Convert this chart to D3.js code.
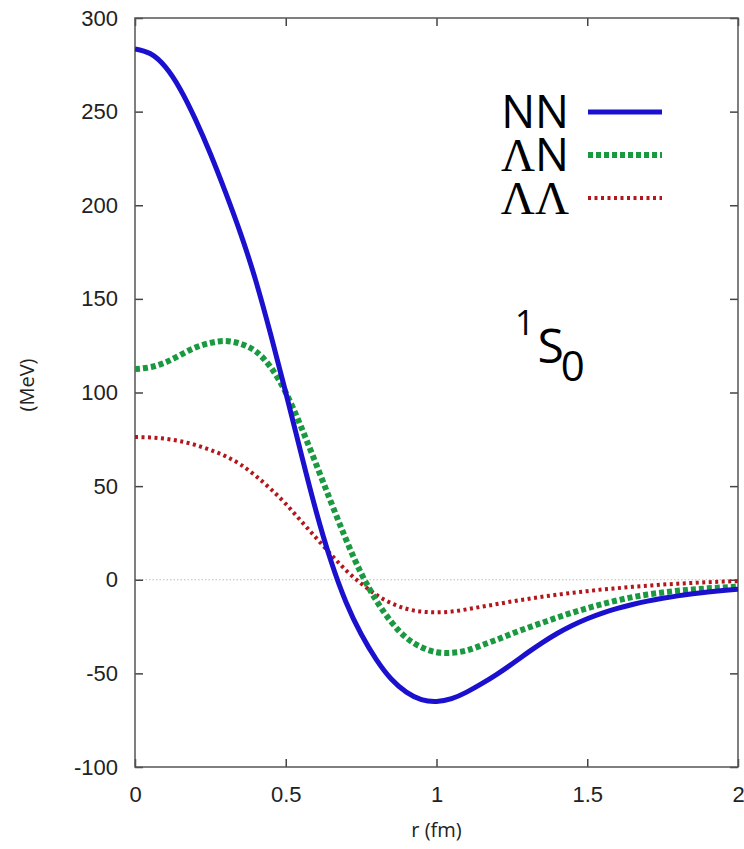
<!DOCTYPE html>
<html>
<head>
<meta charset="utf-8">
<script src="https://cdn.jsdelivr.net/npm/d3@7"></script>
<style>
  body { margin: 0; background: #fff; }
  svg { display: block; font-family: "Open Sans", "Noto Sans", sans-serif; }
</style>
</head>
<body>
<svg width="744" height="849"></svg>
<script>
// r grid (fm)
const rValues = [0, 0.05, 0.1, 0.15, 0.2, 0.25, 0.3, 0.35, 0.4, 0.45, 0.5, 0.55, 0.6, 0.65, 0.7, 0.75,
  0.8, 0.85, 0.9, 0.95, 1.0, 1.05, 1.1, 1.15, 1.2, 1.25, 1.3, 1.35, 1.4, 1.45, 1.5, 1.55, 1.6, 1.65,
  1.7, 1.75, 1.8, 1.85, 1.9, 1.95, 2.0];

// potentials (MeV)
const nnValues = [283.5, 281, 274, 262, 246, 227.5, 207, 185, 160, 131, 100, 68, 37, 10, -12, -29,
  -42.5, -53, -60, -64, -65, -63.5, -60, -55.5, -50.5, -45, -39.2, -33.7, -28.7, -24.4, -20.8, -17.8,
  -15.3, -13.2, -11.4, -9.9, -8.6, -7.5, -6.6, -5.8, -5.1];

const lnValues = [112.5, 113.5, 116, 120, 124, 126.5, 127.5, 126, 122, 113.5, 100, 82, 62, 41.5, 21.5, 3.5,
  -11, -22.5, -31, -36, -38.7, -39, -37.8, -35, -32, -28.8, -25.8, -23, -20.2, -17.6, -15.2, -13,
  -11, -9.3, -7.9, -6.8, -5.9, -5.2, -4.6, -4.1, -3.7];

const llValues = [76.2, 76, 75.3, 74, 72, 69.3, 66, 61.5, 55.5, 48.5, 40.5, 31.5, 22.5, 13.5, 5, -2,
  -8, -12.5, -15.5, -17, -17.4, -17, -15.8, -14.4, -13, -11.6, -10.3, -9.1, -8, -7, -6.1, -5.2,
  -4.5, -3.8, -3.2, -2.6, -2.1, -1.7, -1.3, -1, -0.7];

const xTicks = [0, 0.5, 1, 1.5, 2];
const yTicks = [-100, -50, 0, 50, 100, 150, 200, 250, 300];

const series = [
  { key: "NN", values: nnValues, color: "#1c10cf", width: 5, dash: null },
  { key: "ΛN", values: lnValues, color: "#1a9940", width: 6, dash: "5,3" },
  { key: "ΛΛ", values: llValues, color: "#b3161c", width: 4, dash: "3,3.5" }
];

const margin = { top: 18, right: 6, bottom: 82, left: 135 };
const width = 744, height = 849;
const innerW = width - margin.left - margin.right;
const innerH = height - margin.top - margin.bottom;

const svg = d3.select("svg");
const g = svg.append("g").attr("transform", `translate(${margin.left},${margin.top})`);

const x = d3.scaleLinear().domain([0, 2]).range([0, innerW]);
const y = d3.scaleLinear().domain([-100, 300]).range([innerH, 0]);

// zero line
g.append("line")
  .attr("x1", 0).attr("x2", innerW)
  .attr("y1", y(0)).attr("y2", y(0))
  .attr("stroke", "#bbb").attr("stroke-width", 1)
  .attr("stroke-dasharray", "1.5,2");

const fmt = d => d;

const styleAxis = sel => {
  sel.select(".domain").remove();
  sel.selectAll(".tick line").attr("stroke", "#444").attr("stroke-width", 1.5);
  sel.selectAll(".tick text").attr("fill", "#222").attr("font-size", 22);
};

g.append("g")
  .call(d3.axisLeft(y).tickValues(yTicks).tickSize(-8).tickPadding(17).tickFormat(fmt))
  .call(styleAxis);

g.append("g")
  .attr("transform", `translate(${innerW},0)`)
  .call(d3.axisRight(y).tickValues(yTicks).tickSize(-8).tickFormat(""))
  .call(styleAxis);

g.append("g")
  .attr("transform", `translate(0,${innerH})`)
  .call(d3.axisBottom(x).tickValues(xTicks).tickSize(-8).tickPadding(19).tickFormat(fmt))
  .call(styleAxis);

g.append("g")
  .call(d3.axisTop(x).tickValues(xTicks).tickSize(-8).tickFormat(""))
  .call(styleAxis);

// frame
g.append("rect")
  .attr("width", innerW).attr("height", innerH)
  .attr("fill", "none").attr("stroke", "#555").attr("stroke-width", 1.5);

// curves
const line = d3.line()
  .x((d, i) => x(rValues[i]))
  .y(d => y(d))
  .curve(d3.curveNatural);

svg.append("clipPath").attr("id", "plot-clip")
  .append("rect").attr("width", innerW).attr("height", innerH);

g.append("g").attr("clip-path", "url(#plot-clip)")
  .selectAll("path")
  .data(series.slice().reverse())
  .join("path")
  .attr("d", d => line(d.values))
  .attr("fill", "none")
  .attr("stroke", d => d.color)
  .attr("stroke-width", d => d.width)
  .attr("stroke-dasharray", d => d.dash);

// axis titles
svg.append("text")
  .attr("x", x(1) + margin.left).attr("y", 837)
  .attr("text-anchor", "middle")
  .attr("font-size", 20).attr("fill", "#222")
  .text("r (fm)");

svg.append("text")
  .attr("transform", "translate(34,385) rotate(-90)")
  .attr("text-anchor", "middle")
  .attr("font-size", 20).attr("fill", "#222")
  .text("(MeV)");

// legend
const legendRows = [112, 155, 198];
const serif = "'Liberation Serif', 'DejaVu Serif', serif";
const legend = svg.append("g");
series.forEach((s, i) => {
  const row = legend.append("g").attr("transform", `translate(0,${legendRows[i]})`);
  const t = row.append("text")
    .attr("x", 569).attr("y", 16)
    .attr("text-anchor", "end")
    .attr("font-size", 45).attr("fill", "#000");
  [...s.key].forEach(ch => {
    t.append("tspan")
      .attr("font-family", ch === "Λ" ? serif : null)
      .attr("font-size", ch === "Λ" ? 47 : 45)
      .text(ch);
  });
  row.append("line")
    .attr("x1", 588).attr("x2", 662)
    .attr("stroke", s.color)
    .attr("stroke-width", s.width)
    .attr("stroke-dasharray", s.dash);
});

// state label
const label = svg.append("text")
  .attr("x", 515).attr("y", 363)
  .attr("fill", "#000");
label.append("tspan").attr("font-size", 34).attr("dy", -28).text("1");
label.append("tspan").attr("font-size", 48).attr("dy", 28).attr("dx", 3).text("S");
label.append("tspan").attr("font-size", 42).attr("dy", 18).attr("dx", -3).text("0");
</script>
</body>
</html>
